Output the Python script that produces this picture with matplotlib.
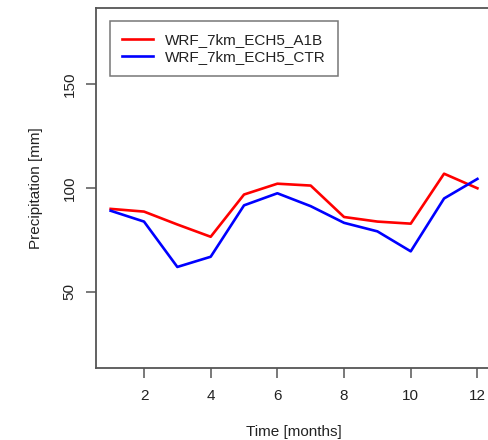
import matplotlib
matplotlib.use("Agg")
import matplotlib.pyplot as plt

months = [1, 2, 3, 4, 5, 6, 7, 8, 9, 10, 11, 12]
a1b = [89.9, 88.6, 82.4, 76.5, 96.8, 102.0, 101.1, 86.0, 83.8, 82.8, 106.8, 99.8]
ctr = [89.0, 83.8, 62.0, 66.9, 91.6, 97.4, 91.2, 83.2, 79.1, 69.5, 94.9, 104.3]
xticks = [2, 4, 6, 8, 10, 12]
yticks = [50, 100, 150]

plt.rcParams["font.family"] = ["Liberation Sans", "DejaVu Sans"]
GREY = "#555555"
TXT = "#222222"

fig = plt.figure(figsize=(4.89, 4.40), dpi=100)
ax = fig.add_axes([0.1963, 0.1643, 0.81, 0.8175])

ax.plot(months, a1b, color="#ff0000", lw=1.9, label="WRF_7km_ECH5_A1B")
ax.plot(months, ctr, color="#0000ff", lw=1.9, label="WRF_7km_ECH5_CTR")

ax.set_xlim(0.56, 12.44)
ax.set_ylim(13.6, 186.4)
ax.set_xticks(xticks)
ax.set_yticks(yticks)
ax.set_yticklabels([str(v) for v in yticks], rotation=90, va="center")
ax.tick_params(colors=GREY, labelcolor=TXT, length=7, width=1.1,
               labelsize=11, pad=8)
ax.tick_params(axis="y", pad=7)
for s in ax.spines.values():
    s.set_color(GREY)
    s.set_linewidth(1.3)

ax.set_xlabel("Time [months]", fontsize=11, color=TXT, labelpad=16)
ax.set_ylabel("Precipitation [mm]", fontsize=11, color=TXT, labelpad=14)

leg = ax.legend(loc="upper left", bbox_to_anchor=(0.035, 0.964), borderaxespad=0,
                fancybox=False, edgecolor=GREY, fontsize=11, handlelength=2.0,
                handletextpad=0.8, borderpad=0.8, labelspacing=0.2)
leg.get_frame().set_linewidth(1.1)
for t in leg.get_texts():
    t.set_color(TXT)

fig.savefig("out.png", dpi=100)
